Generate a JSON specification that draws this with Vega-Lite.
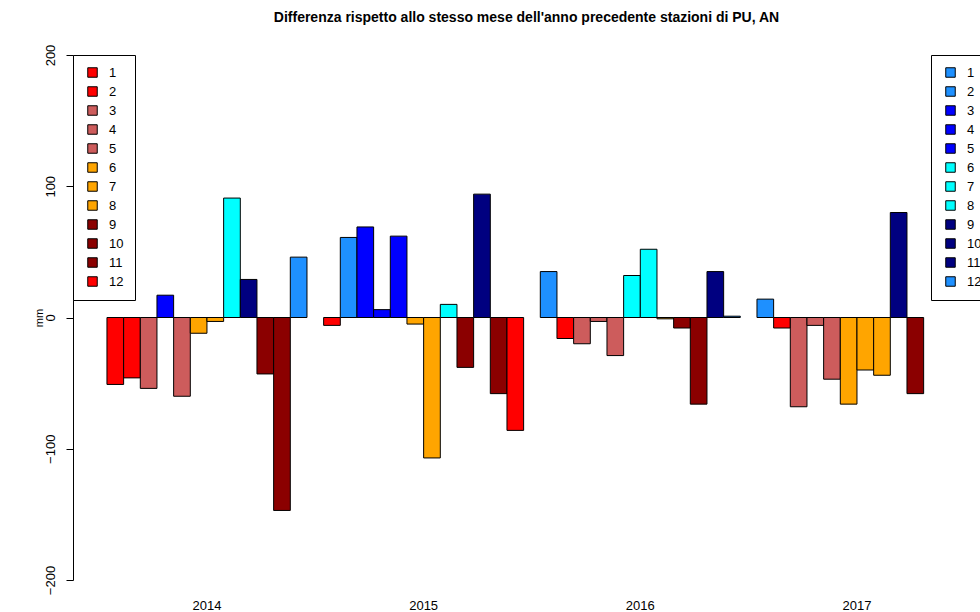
{
  "$schema": "https://vega.github.io/schema/vega-lite/v6.json",
  "autosize": {"type": "none"},
  "padding": {"left": 73, "top": 55, "right": 0, "bottom": 32},
  "width": 907,
  "height": 525,
  "background": "white",
  "config": {
    "font": "Liberation Sans",
    "view": {"stroke": null},
    "axis": {"labelColor": "black", "titleColor": "black", "domainColor": "black", "tickColor": "black", "grid": false},
    "legend": {
      "orient": "none",
      "title": null,
      "strokeColor": "black",
      "fillColor": "white",
      "strokeWidth": 1,
      "padding": 11,
      "rowPadding": 4,
      "symbolType": "square",
      "symbolSize": 90,
      "symbolStrokeColor": "black",
      "symbolStrokeWidth": 1,
      "symbolOffset": 2,
      "labelOffset": 10,
      "labelFontSize": 13,
      "labelColor": "black",
      "cornerRadius": 0
    }
  },
  "title": {
    "text": "Differenza rispetto allo stesso mese dell'anno precedente stazioni di PU, AN",
    "fontSize": 14,
    "fontWeight": "bold",
    "color": "black",
    "anchor": "middle",
    "offset": 19
  },
  "data": {
    "values": [
      {"year": 2014, "month": 1, "diff": -51},
      {"year": 2014, "month": 2, "diff": -46},
      {"year": 2014, "month": 3, "diff": -54},
      {"year": 2014, "month": 4, "diff": 17},
      {"year": 2014, "month": 5, "diff": -60},
      {"year": 2014, "month": 6, "diff": -12},
      {"year": 2014, "month": 7, "diff": -3},
      {"year": 2014, "month": 8, "diff": 91},
      {"year": 2014, "month": 9, "diff": 29},
      {"year": 2014, "month": 10, "diff": -43},
      {"year": 2014, "month": 11, "diff": -147},
      {"year": 2014, "month": 12, "diff": 46},
      {"year": 2015, "month": 1, "diff": -6},
      {"year": 2015, "month": 2, "diff": 61},
      {"year": 2015, "month": 3, "diff": 69},
      {"year": 2015, "month": 4, "diff": 6},
      {"year": 2015, "month": 5, "diff": 62},
      {"year": 2015, "month": 6, "diff": -5},
      {"year": 2015, "month": 7, "diff": -107},
      {"year": 2015, "month": 8, "diff": 10},
      {"year": 2015, "month": 9, "diff": -38},
      {"year": 2015, "month": 10, "diff": 94},
      {"year": 2015, "month": 11, "diff": -58},
      {"year": 2015, "month": 12, "diff": -86},
      {"year": 2016, "month": 1, "diff": 35},
      {"year": 2016, "month": 2, "diff": -16},
      {"year": 2016, "month": 3, "diff": -20},
      {"year": 2016, "month": 4, "diff": -3},
      {"year": 2016, "month": 5, "diff": -29},
      {"year": 2016, "month": 6, "diff": 32},
      {"year": 2016, "month": 7, "diff": 52},
      {"year": 2016, "month": 8, "diff": -1},
      {"year": 2016, "month": 9, "diff": -8},
      {"year": 2016, "month": 10, "diff": -66},
      {"year": 2016, "month": 11, "diff": 35},
      {"year": 2016, "month": 12, "diff": 1},
      {"year": 2017, "month": 1, "diff": 14},
      {"year": 2017, "month": 2, "diff": -8},
      {"year": 2017, "month": 3, "diff": -68},
      {"year": 2017, "month": 4, "diff": -6},
      {"year": 2017, "month": 5, "diff": -47},
      {"year": 2017, "month": 6, "diff": -66},
      {"year": 2017, "month": 7, "diff": -40},
      {"year": 2017, "month": 8, "diff": -44},
      {"year": 2017, "month": 9, "diff": 80},
      {"year": 2017, "month": 10, "diff": -58}
    ]
  },
  "encoding": {
    "x": {
      "field": "year",
      "type": "ordinal",
      "scale": {"type": "band", "paddingInner": 0.0769, "paddingOuter": 0.1315, "align": 0.596},
      "axis": {"title": null, "domain": false, "ticks": false, "labelAngle": 0, "labelPadding": 19, "labelFontSize": 13}
    },
    "xOffset": {
      "field": "month",
      "type": "ordinal",
      "scale": {"domain": [1, 2, 3, 4, 5, 6, 7, 8, 9, 10, 11, 12], "paddingInner": 0, "paddingOuter": 0}
    },
    "y": {
      "field": "diff",
      "type": "quantitative",
      "scale": {"domain": [-200, 200], "nice": false},
      "axis": {
        "title": "mm",
        "titleFontSize": 11,
        "titleFontWeight": "normal",
        "titlePadding": 0,
        "values": [-200, -100, 0, 100, 200],
        "labelAngle": -90,
        "labelAlign": "center",
        "labelBaseline": "bottom",
        "labelFontSize": 13,
        "labelPadding": 9,
        "tickSize": 7
      }
    }
  },
  "layer": [
    {
      "transform": [{"filter": "datum.diff < 0"}],
      "mark": {"type": "bar", "stroke": "black", "strokeWidth": 1},
      "encoding": {
        "fill": {
          "field": "month",
          "type": "ordinal",
          "scale": {
            "domain": [1, 2, 3, 4, 5, 6, 7, 8, 9, 10, 11, 12],
            "range": ["#FF0000", "#FF0000", "#CD5C5C", "#CD5C5C", "#CD5C5C", "#FFA500", "#FFA500", "#FFA500", "#8B0000", "#8B0000", "#8B0000", "#FF0000"]
          },
          "legend": {"legendX": 0, "legendY": 0}
        }
      }
    },
    {
      "transform": [{"filter": "datum.diff >= 0"}],
      "mark": {"type": "bar", "stroke": "black", "strokeWidth": 1},
      "encoding": {
        "fill": {
          "field": "month",
          "type": "ordinal",
          "scale": {
            "domain": [1, 2, 3, 4, 5, 6, 7, 8, 9, 10, 11, 12],
            "range": ["#1E90FF", "#1E90FF", "#0000FF", "#0000FF", "#0000FF", "#00FFFF", "#00FFFF", "#00FFFF", "#000080", "#000080", "#000080", "#1E90FF"]
          },
          "legend": {"legendX": 858, "legendY": 0}
        }
      }
    }
  ],
  "resolve": {"scale": {"fill": "independent"}, "legend": {"fill": "independent"}}
}
